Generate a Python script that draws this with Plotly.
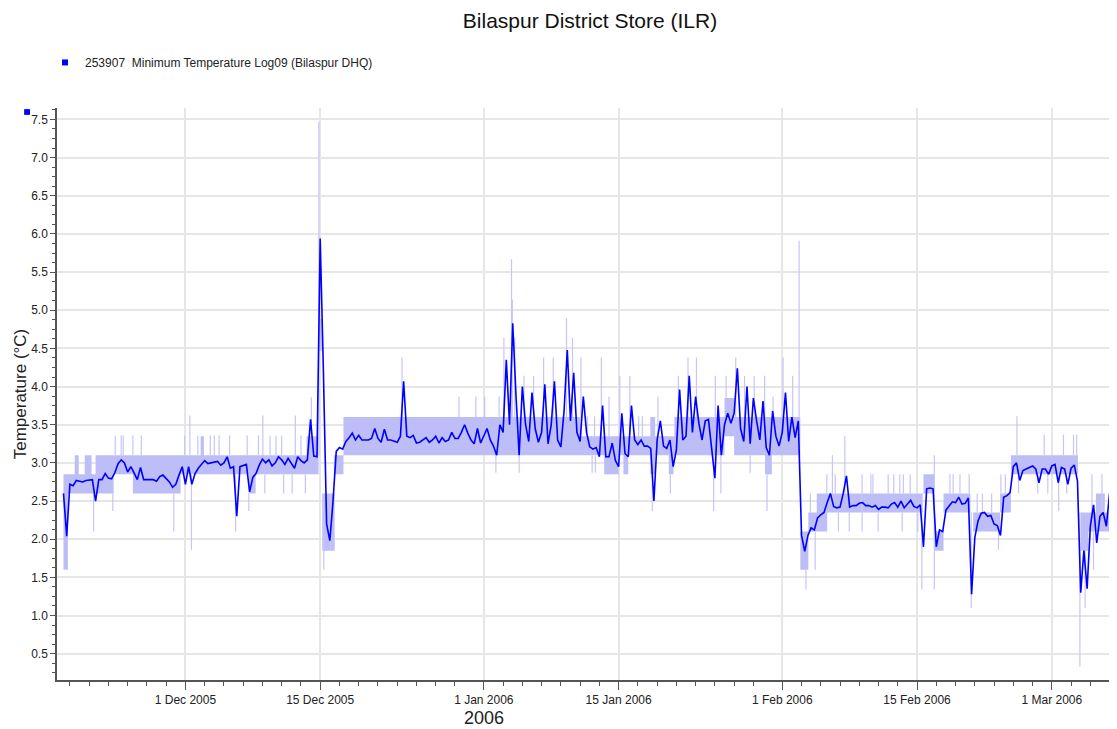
import pandas as pd
import plotly.graph_objects as go

# Log09 minimum temperature (deg C), one reading every 8 hours from 2005-11-18 08:00
first_reading = "2005-11-18 08:00"
min_temp = [
    2.60, 2.04,
    2.72, 2.70, 2.77,  2.76, 2.75, 2.77,  2.78, 2.78, 2.50,  2.78, 2.78, 2.86,   # Nov 19-22
    2.80, 2.79, 2.87,  2.99, 3.04, 3.00,  2.88, 2.95, 2.87,  2.78, 2.94, 2.78,   # Nov 23-26
    2.78, 2.78, 2.78,  2.76, 2.82, 2.84,  2.79, 2.75, 2.68,  2.72, 2.84, 2.95,   # Nov 27-30
    2.72, 2.95, 2.72,  2.86, 2.93, 2.98,  3.03, 2.99, 3.00,  3.02, 3.02, 2.97,   # Dec 1-4
    3.00, 3.08, 2.93,  2.95, 2.30, 2.95,  2.96, 2.98, 2.62,  2.81, 2.86, 2.97,   # Dec 5-8
    3.05, 3.00, 3.04,  2.96, 3.00, 3.08,  3.04, 2.98, 3.06,  3.00, 2.93, 3.08,   # Dec 9-12
    3.03, 3.00, 3.04,  3.57, 3.09, 3.08,  5.94, 4.20, 2.20,  1.98, 2.50, 3.15,   # Dec 13-16
    3.20, 3.18, 3.28,  3.33, 3.39, 3.30,  3.36, 3.30, 3.30,  3.30, 3.32, 3.45,   # Dec 17-20
    3.32, 3.27, 3.44,  3.30, 3.30, 3.28,  3.27, 3.35, 4.07,  3.35, 3.33, 3.36,   # Dec 21-24
    3.26, 3.27, 3.30,  3.33, 3.27, 3.30,  3.35, 3.26, 3.33,  3.28, 3.30, 3.40,   # Dec 25-28
    3.32, 3.32, 3.40,  3.50, 3.39, 3.30,  3.25, 3.45, 3.26,                      # Dec 29-31
    3.35, 3.45, 3.30,  3.22, 3.10, 3.50,  3.40, 4.35, 3.50,  4.83, 3.90, 3.10,   # Jan 1-4
    4.00, 3.50, 3.28,  3.92, 3.45, 3.27,  3.40, 4.03, 3.25,  3.50, 4.07, 3.30,   # Jan 5-8
    3.21, 3.68, 4.48,  3.55, 4.18, 3.40,  3.28, 3.87, 3.40,  3.21, 3.18, 3.20,   # Jan 9-12
    3.08, 3.75, 3.08,  3.08, 3.26, 3.03,  2.95, 3.65, 3.12,  3.08, 3.75, 3.30,   # Jan 13-16
    3.24, 3.30, 3.22,  3.22, 3.19, 2.50,  3.30, 3.55, 3.22,  3.19, 3.30, 2.95,   # Jan 17-20
    3.17, 3.96, 3.30,  3.35, 4.14, 3.40,  3.87, 3.52, 3.30,  3.55, 3.57, 3.20,   # Jan 21-24
    2.80, 3.75, 3.10,  3.50, 3.65, 3.52,  3.65, 4.24, 3.45,  3.28, 4.00, 3.25,   # Jan 25-28
    3.85, 3.55, 3.30,  3.81, 3.20, 3.10,  3.68, 3.35, 3.22,                      # Jan 29-31
    3.40, 3.92, 3.28,  3.60, 3.33, 3.55,  2.05, 1.84, 2.05,  2.15, 2.12, 2.28,   # Feb 1-4
    2.32, 2.35, 2.48,  2.60, 2.43, 2.41,  2.42, 2.60, 2.83,  2.42, 2.44, 2.44,   # Feb 5-8
    2.47, 2.48, 2.44,  2.44, 2.42, 2.44,  2.39, 2.42, 2.42,  2.41, 2.46, 2.48,   # Feb 9-12
    2.42, 2.50, 2.41,  2.46, 2.51, 2.43,  2.41, 2.45, 1.90,  2.66, 2.67, 2.66,   # Feb 13-16
    1.90, 2.12, 2.10,  2.38, 2.44, 2.49,  2.48, 2.55, 2.46,  2.47, 2.54, 1.28,   # Feb 17-20
    2.02, 2.24, 2.34,  2.35, 2.30, 2.31,  2.20, 2.18, 2.05,  2.55, 2.57, 2.61,   # Feb 21-24
    2.95, 3.00, 2.77,  2.90, 2.92, 2.94,  2.96, 2.92, 2.74,  2.92, 2.92, 2.85,   # Feb 25-28
    2.96, 2.98, 2.74,  2.94, 2.92, 2.72,  2.93, 2.97, 2.76,  1.30, 1.85, 1.35,   # Mar 1-4
    2.17, 2.45, 1.95,  2.30, 2.35, 2.17,  2.60, 2.13, 1.47,                      # Mar 5-7
]

# spread of the raw readings behind the line (light band)
band_start = [
    "2005-11-18 08:00", "2005-11-18 19:00", "2005-11-19 12:00", "2005-11-20 13:00",
    "2005-11-21 16:00", "2005-11-23 13:00", "2005-11-25 13:00", "2005-11-30 12:00",
    "2005-12-02 14:00", "2005-12-07 14:00", "2005-12-13 14:00", "2005-12-14 20:40",
    "2005-12-15 05:00", "2005-12-16 10:00", "2005-12-17 10:00", "2006-01-11 00:00",
    "2006-01-13 12:00", "2006-01-15 00:00", "2006-01-15 12:00", "2006-01-18 07:00",
    "2006-01-18 19:00", "2006-01-20 05:00", "2006-01-20 19:00", "2006-01-26 00:00",
    "2006-01-27 00:00", "2006-01-30 05:00", "2006-02-02 21:00", "2006-02-03 17:00",
    "2006-02-04 14:00", "2006-02-05 16:00", "2006-02-15 16:00", "2006-02-16 19:00",
    "2006-02-17 18:00", "2006-02-20 20:00", "2006-02-23 15:00", "2006-02-24 18:00",
    "2006-03-04 00:00", "2006-03-04 19:00", "2006-03-05 14:00", "2006-03-07 02:00",
]
band_end = [
    "2005-11-18 19:00", "2005-11-21 16:00", "2005-11-19 22:00", "2005-11-21 06:00",
    "2005-11-23 13:00", "2005-11-25 13:00", "2005-11-30 12:00", "2005-12-14 20:00",
    "2005-12-02 22:00", "2005-12-08 07:00", "2005-12-14 20:00", "2005-12-15 04:00",
    "2005-12-16 12:00", "2005-12-17 10:00", "2006-01-11 00:00", "2006-01-13 12:00",
    "2006-01-15 00:00", "2006-01-18 07:00", "2006-01-16 00:00", "2006-01-18 19:00",
    "2006-01-20 19:00", "2006-01-20 17:00", "2006-01-26 00:00", "2006-01-27 00:00",
    "2006-02-02 21:00", "2006-01-30 22:00", "2006-02-03 17:00", "2006-02-04 14:00",
    "2006-02-05 16:00", "2006-02-15 14:00", "2006-02-16 19:00", "2006-02-17 18:00",
    "2006-02-20 13:00", "2006-02-23 15:00", "2006-02-24 18:00", "2006-03-03 17:00",
    "2006-03-04 19:00", "2006-03-07 02:00", "2006-03-06 12:00", "2006-03-07 19:00",
]
band_low = [
    1.60, 2.60, 2.85, 2.85, 2.60, 2.85, 2.60, 2.85, 3.10, 2.60, 3.10, 4.47,
    1.85, 2.85, 3.10, 3.10, 2.85, 3.10, 2.85, 2.85, 3.10, 2.85, 3.10, 3.35,
    3.10, 2.85, 1.60, 2.10, 2.10, 2.35, 2.60, 1.85, 2.35, 2.10, 2.35, 2.85,
    1.85, 2.10, 2.35, 1.85,
]
band_high = [
    2.85, 2.85, 3.10, 3.10, 3.10, 3.10, 3.10, 3.10, 3.35, 2.85, 3.35, 4.89,
    2.60, 3.10, 3.60, 3.35, 3.35, 3.35, 3.10, 3.60, 3.35, 3.10, 3.60, 3.85,
    3.60, 3.10, 2.10, 2.35, 2.60, 2.60, 2.85, 2.10, 2.60, 2.35, 2.60, 3.10,
    2.35, 2.35, 2.60, 2.10,
]

# single raw readings that stick out of the band
spike_time = [
    "2005-11-21 11:00", "2005-11-23 11:00", "2005-11-23 17:00", "2005-11-24 08:00",
    "2005-11-24 13:00", "2005-11-25 13:00", "2005-11-26 10:00", "2005-11-29 19:00",
    "2005-11-30 22:00", "2005-12-01 11:00", "2005-12-01 15:00", "2005-12-02 07:00",
    "2005-12-03 14:00", "2005-12-04 00:00", "2005-12-04 12:00", "2005-12-05 14:00",
    "2005-12-06 05:00", "2005-12-07 10:00", "2005-12-07 14:00", "2005-12-08 14:00",
    "2005-12-09 01:00", "2005-12-09 06:00", "2005-12-09 19:00", "2005-12-10 10:00",
    "2005-12-11 00:00", "2005-12-11 05:00", "2005-12-12 02:00", "2005-12-12 10:00",
    "2005-12-13 00:00", "2005-12-13 11:00", "2005-12-14 02:00", "2005-12-14 20:40",
    "2005-12-15 09:00", "2005-12-16 02:00", "2005-12-23 12:00", "2005-12-29 10:00",
    "2005-12-31 04:00", "2006-01-01 02:00", "2006-01-02 06:00", "2006-01-02 14:00",
    "2006-01-03 02:00", "2006-01-03 21:00", "2006-01-03 23:00", "2006-01-04 05:00",
    "2006-01-04 16:00", "2006-01-05 04:00", "2006-01-06 04:00", "2006-01-07 05:00",
    "2006-01-08 05:00", "2006-01-09 14:00", "2006-01-10 05:00", "2006-01-11 02:00",
    "2006-01-11 18:00", "2006-01-12 06:00", "2006-01-12 12:00", "2006-01-12 14:00",
    "2006-01-13 05:00", "2006-01-14 00:00", "2006-01-15 03:00", "2006-01-16 04:00",
    "2006-01-17 02:00", "2006-01-17 11:00", "2006-01-18 12:00", "2006-01-19 02:00",
    "2006-01-20 09:00", "2006-01-21 05:00", "2006-01-22 05:00", "2006-01-23 02:00",
    "2006-01-24 21:00", "2006-01-25 01:00", "2006-01-25 15:00", "2006-01-26 04:00",
    "2006-01-27 04:00", "2006-01-28 02:00", "2006-01-28 16:00", "2006-01-29 02:00",
    "2006-01-30 04:00", "2006-01-30 10:00", "2006-01-31 01:00", "2006-02-01 02:00",
    "2006-02-02 02:00", "2006-02-02 18:00", "2006-02-03 11:00", "2006-02-03 22:00",
    "2006-02-04 10:00", "2006-02-05 15:00", "2006-02-06 05:00", "2006-02-06 12:00",
    "2006-02-06 20:00", "2006-02-07 12:00", "2006-02-07 23:00", "2006-02-09 07:00",
    "2006-02-10 05:00", "2006-02-10 10:00", "2006-02-10 23:00", "2006-02-12 00:00",
    "2006-02-12 14:00", "2006-02-13 05:00", "2006-02-13 11:00", "2006-02-13 14:00",
    "2006-02-14 07:00", "2006-02-15 02:00", "2006-02-15 12:00", "2006-02-16 19:00",
    "2006-02-18 10:00", "2006-02-18 18:00", "2006-02-19 11:00", "2006-02-20 10:00",
    "2006-02-20 15:00", "2006-02-21 06:00", "2006-02-21 19:00", "2006-02-22 18:00",
    "2006-02-23 11:00", "2006-02-23 17:00", "2006-02-24 04:00", "2006-02-25 09:00",
    "2006-02-25 13:00", "2006-02-27 13:00", "2006-02-28 05:00", "2006-02-28 14:00",
    "2006-03-01 17:00", "2006-03-02 05:00", "2006-03-02 13:00", "2006-03-03 06:00",
    "2006-03-03 14:00", "2006-03-03 22:00", "2006-03-04 11:00", "2006-03-05 04:00",
    "2006-03-05 08:00", "2006-03-06 05:00", "2006-03-07 03:00", "2006-03-07 12:00",
    "2006-03-07 17:00",
]
spike_low = [
    2.10, 2.37, 3.10, 3.10, 3.10, 3.10, 3.10, 2.10, 3.10, 3.10, 1.86, 3.10,
    3.10, 3.10, 3.10, 3.10, 2.10, 3.10, 2.37, 3.10, 3.10, 2.60, 3.10, 3.10,
    3.10, 2.60, 2.60, 3.10, 3.10, 2.60, 3.35, 3.10, 1.60, 1.86, 3.60, 3.60,
    3.60, 3.60, 2.87, 3.60, 3.60, 3.60, 3.60, 3.60, 2.87, 3.60, 3.60, 3.60,
    3.60, 3.60, 3.60, 3.35, 3.35, 2.87, 3.35, 2.87, 3.35, 3.35, 3.35, 3.35,
    3.35, 3.35, 2.37, 3.35, 2.60, 3.60, 3.60, 3.60, 2.37, 3.60, 2.60, 3.85,
    3.60, 3.60, 2.87, 3.60, 3.60, 2.37, 3.60, 3.60, 3.60, 3.60, 1.34, 2.35,
    1.60, 2.60, 2.60, 2.60, 2.10, 2.60, 2.10, 2.10, 2.60, 2.60, 2.10, 2.60,
    2.60, 2.60, 2.10, 2.60, 2.60, 2.10, 1.34, 1.34, 2.60, 2.60, 2.60, 2.60,
    1.10, 2.35, 2.35, 2.35, 1.86, 2.60, 2.60, 3.10, 2.60, 2.60, 3.10, 2.60,
    2.37, 3.10, 2.60, 3.10, 3.10, 0.33, 1.10, 2.35, 1.60, 2.35, 2.10, 0.84,
    1.10,
]
spike_high = [
    2.60, 2.60, 3.36, 3.36, 3.36, 3.36, 3.36, 2.60, 3.36, 3.62, 2.85, 3.36,
    3.36, 3.36, 3.36, 3.36, 2.85, 3.36, 2.60, 3.36, 3.62, 2.85, 3.36, 3.36,
    3.36, 2.85, 2.85, 3.62, 3.36, 2.85, 3.86, 7.47, 2.60, 2.60, 4.38, 3.87,
    3.87, 3.87, 3.10, 3.87, 4.64, 5.67, 5.14, 4.64, 3.10, 4.14, 4.14, 4.38,
    4.38, 4.90, 4.64, 4.38, 3.61, 3.10, 3.61, 3.10, 4.38, 3.87, 4.14, 4.14,
    3.61, 3.61, 2.85, 3.87, 2.85, 4.14, 4.38, 4.38, 3.10, 4.14, 3.10, 4.14,
    4.38, 4.14, 3.10, 4.14, 4.14, 2.85, 3.87, 4.38, 4.14, 5.91, 1.60, 2.60,
    2.10, 2.85, 3.10, 2.85, 2.35, 3.35, 2.35, 2.85, 2.85, 2.85, 2.35, 2.85,
    2.85, 2.85, 2.35, 2.85, 2.85, 2.35, 2.35, 3.10, 2.85, 2.85, 2.85, 2.85,
    2.35, 2.60, 2.60, 2.60, 2.10, 2.85, 2.85, 3.61, 2.85, 2.85, 3.37, 2.85,
    2.85, 3.37, 2.85, 3.37, 3.37, 2.35, 1.85, 2.85, 2.10, 2.85, 3.35, 1.85,
    1.85,
]

tick_dates = ["2005-12-01", "2005-12-15", "2006-01-01", "2006-01-15",
              "2006-02-01", "2006-02-15", "2006-03-01"]
tick_labels = ["1 Dec 2005", "15 Dec 2005", "1 Jan 2006", "15 Jan 2006",
               "1 Feb 2006", "15 Feb 2006", "1 Mar 2006"]

times = pd.date_range(first_reading, periods=len(min_temp), freq="8h")

# band rectangles, one closed polygon per segment
bx, by = [], []
for s, e, lo, hi in zip(band_start, band_end, band_low, band_high):
    bx += [s, e, e, s, s, None]
    by += [lo, lo, hi, hi, lo, None]

# outlier readings as thin vertical strokes
sx, sy = [], []
for t, lo, hi in zip(spike_time, spike_low, spike_high):
    sx += [t, t, None]
    sy += [lo, hi, None]

# minor ticks on odd days of the month (not the 31st, not on major ticks)
days = pd.date_range("2005-11-18", "2006-03-08", freq="D")
minor_ticks = [d.strftime("%Y-%m-%d") for d in days
               if d.day % 2 == 1 and d.day != 31 and d.strftime("%Y-%m-%d") not in tick_dates]

band_col = "rgb(189,189,248)"
line_col = "#0000FF"

fig = go.Figure()
fig.add_trace(go.Scatter(x=bx, y=by, mode="lines", fill="toself", fillcolor=band_col,
                         line=dict(width=0, color=band_col), hoverinfo="skip", showlegend=False))
fig.add_trace(go.Scatter(x=sx, y=sy, mode="lines", line=dict(color="rgb(198,198,248)", width=1.2),
                         hoverinfo="skip", showlegend=False))
fig.add_trace(go.Scatter(x=times, y=min_temp, mode="lines", line=dict(color=line_col, width=1.6),
                         showlegend=False))
# legend entry (square marker like the original)
fig.add_trace(go.Scatter(x=[None], y=[None], mode="markers",
                         marker=dict(symbol="square", size=6, color=line_col),
                         name="253907\u00a0 Minimum Temperature Log09 (Bilaspur DHQ)"))

axis_col = "#555555"
grid_col = "#E6E6E6"

# the page adds an 8px body margin, so the figure is 8px smaller than the window
fig.update_layout(
    width=1109, height=721,
    margin=dict(l=49, r=0, t=100, b=49),
    paper_bgcolor="white", plot_bgcolor="white",
    font=dict(family="Liberation Sans, Arial, sans-serif", size=12, color="#222222"),
    title=dict(text="Bilaspur District Store (ILR)", x=0.5248, xanchor="center", xref="container",
               y=0.983, yanchor="middle", font=dict(size=21, color="#111111")),
    showlegend=True,
    legend=dict(x=-0.0113, xanchor="left", y=1.105, yanchor="top",
                bgcolor="rgba(0,0,0,0)", font=dict(size=12)),
    xaxis=dict(type="date", range=["2005-11-17 15:50", "2006-03-07 18:30"],
               tickmode="array", tickvals=tick_dates, ticktext=tick_labels,
               ticks="outside", ticklen=8, tickcolor=axis_col, tickwidth=1,
               showline=True, linecolor=axis_col, linewidth=1.5,
               showgrid=True, gridcolor=grid_col, gridwidth=2, zeroline=False,
               minor=dict(tickmode="array", tickvals=minor_ticks, ticks="outside",
                          ticklen=4, tickcolor=axis_col, showgrid=False)),
    yaxis=dict(range=[0.155, 7.65], tick0=0.5, dtick=0.5, tickformat=".1f",
               ticks="outside", ticklen=5, tickcolor=axis_col,
               showline=True, linecolor=axis_col, linewidth=1.5,
               showgrid=True, gridcolor=grid_col, gridwidth=2, zeroline=False,
               title=dict(text="Temperature (°C)", font=dict(size=17, color="#222222"), standoff=0),
               minor=dict(tick0=0.5, dtick=0.125, ticks="outside", ticklen=3,
                          tickcolor=axis_col, showgrid=False)),
    annotations=[dict(text="2006", x="2006-01-01", xref="x", y=-0.066, yref="paper",
                      yanchor="middle", showarrow=False, font=dict(size=18, color="#222222"))],
    shapes=[dict(type="rect", xref="paper", yref="paper", x0=-0.031, x1=-0.0255,
                 y0=0.988, y1=0.998, fillcolor=line_col, line=dict(width=0))],
)

fig.write_html("out.html")
